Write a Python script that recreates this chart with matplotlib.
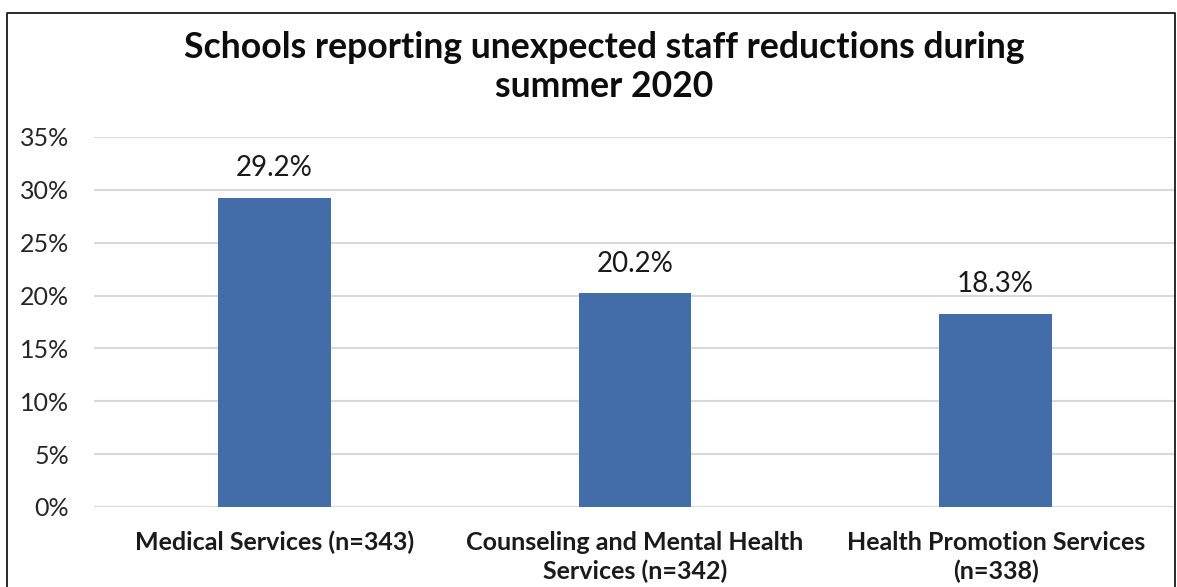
import matplotlib.pyplot as plt
from matplotlib.lines import Line2D
from matplotlib.ticker import FuncFormatter

# Survey results
categories = ['Medical Services (n=343)',
              'Counseling and Mental Health\nServices (n=342)',
              'Health Promotion Services\n(n=338)']
values = [29.2, 20.2, 18.3]
yticks = [0, 5, 10, 15, 20, 25, 30, 35]

plt.rcParams['font.family'] = ['Lato', 'DejaVu Sans']

W, H = 1177, 587
fig = plt.figure(figsize=(W / 100, H / 100), dpi=100)
ax = fig.add_axes([94 / W, 1 - 507 / H, (1176 - 94) / W, (507 - 137) / H])

x = range(len(categories))
bars = ax.bar(x, values, width=0.313, color='#436DA8', zorder=3)
for b, v in zip(bars, values):
    ax.text(b.get_x() + b.get_width() / 2, v + 1.6, f'{v:.1f}%',
            ha='center', va='bottom', fontsize=20, color='#1a1a1a')

ax.set_xlim(-0.5, len(categories) - 0.5)
ax.set_ylim(0, 35)
ax.set_yticks(yticks)
ax.yaxis.set_major_formatter(FuncFormatter(lambda v, p: f'{v:.0f}%'))
ax.grid(axis='y', color='#D9D9D9', linewidth=1.5, zorder=0)
ax.set_xticks(list(x))
ax.set_xticklabels(categories, fontsize=18, fontweight='bold', color='#1a1a1a',
                   linespacing=1.3)
ax.tick_params(axis='x', length=0, pad=17)
ax.tick_params(axis='y', length=0, pad=18, labelsize=18, labelcolor='#262626')
for s in ax.spines.values():
    s.set_visible(False)

fig.text(604 / W, 1 - 67 / H, 'Schools reporting unexpected staff reductions during\nsummer 2020',
         ha='center', va='center', fontsize=25.6, fontweight='bold', color='#0d0d0d',
         linespacing=1.22)

# chart frame (left, top, right)
fx = [7 / W, 7 / W, 1175 / W, 1175 / W]
fy = [0, 1 - 13 / H, 1 - 13 / H, 0]
fig.add_artist(Line2D(fx, fy, color='#1a1a1a', linewidth=1.3, transform=fig.transFigure))

fig.savefig('out.png', dpi=100)
